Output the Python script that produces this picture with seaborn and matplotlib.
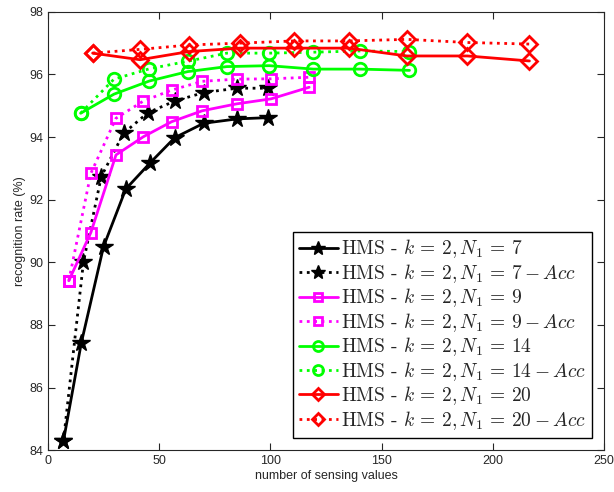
import matplotlib
matplotlib.use("Agg")
import matplotlib.pyplot as plt
import seaborn as sns
import numpy as np

sns.set_style("ticks")
plt.rcParams['font.family'] = ['Liberation Sans', 'DejaVu Sans']
plt.rcParams['mathtext.fontset'] = 'cm'
plt.rcParams['xtick.direction'] = 'in'
plt.rcParams['ytick.direction'] = 'in'

# N1 = 7
x7 = [7, 15, 25, 35, 46, 57, 70, 85, 99]
y7 = [84.3, 87.42, 90.5, 92.34, 93.18, 93.98, 94.44, 94.58, 94.62]
x7a = [7, 16, 24, 34, 45, 57, 70, 85, 99]
y7a = [84.3, 90.02, 92.74, 94.12, 94.78, 95.15, 95.42, 95.56, 95.56]
# N1 = 9
x9 = [9.4, 19.3, 30.6, 42.9, 55.6, 69.4, 84.8, 100.3, 117.4]
y9 = [89.41, 90.95, 93.43, 94.01, 94.49, 94.84, 95.06, 95.22, 95.59]
y9a = [89.41, 92.84, 94.6, 95.15, 95.5, 95.78, 95.85, 95.86, 95.91]
# N1 = 14
x14 = [14.7, 29.7, 45.6, 62.8, 80.4, 99.5, 119.3, 140.3, 162.5]
y14 = [94.76, 95.37, 95.79, 96.09, 96.25, 96.28, 96.17, 96.17, 96.13]
y14a = [94.76, 95.85, 96.18, 96.42, 96.68, 96.68, 96.71, 96.75, 96.73]
# N1 = 20
x20 = [20.1, 41.4, 63.4, 86.3, 110.6, 135.3, 161.3, 188.5, 216.4]
y20 = [96.68, 96.47, 96.73, 96.84, 96.84, 96.84, 96.59, 96.59, 96.43]
y20a = [96.68, 96.8, 96.94, 97.0, 97.07, 97.07, 97.12, 97.02, 96.97]

def lab(n, acc=False):
    s = r'$\text{HMS - }k\,=\,2, N_1\,=\,%s' % n
    if acc:
        s += r'-Acc'
    return s + '$'

series = [
    (x7, y7, 'k', '*', '-', lab(7)),
    (x7a, y7a, 'k', '*', ':', lab(7, True)),
    (x9, y9, '#ff00ff', 's', '-', lab(9)),
    (x9, y9a, '#ff00ff', 's', ':', lab(9, True)),
    (x14, y14, '#00ff00', 'o', '-', lab(14)),
    (x14, y14a, '#00ff00', 'o', ':', lab(14, True)),
    (x20, y20, '#ff0000', 'D', '-', lab(20)),
    (x20, y20a, '#ff0000', 'D', ':', lab(20, True)),
]
msizes = {'*': 13, 's': 7, 'o': 9, 'D': 8}

fig = plt.figure(figsize=(6.14, 4.92), dpi=100)
ax = fig.add_axes([0.078, 0.085, 0.906, 0.891])
for xs, ys, c, m, ls, label in series:
    filled = m == '*'
    sns.lineplot(x=xs, y=ys, ax=ax, color=c, marker=m, linestyle=ls,
                 linewidth=2, markersize=msizes[m], sort=False,
                 markerfacecolor=c if filled else 'none',
                 markeredgecolor=c, markeredgewidth=2 if not filled else 1,
                 label=label, estimator=None)

ax.set_xlim(0, 250)
ax.set_ylim(84, 98)
ax.set_xticks(np.arange(0, 251, 50))
ax.set_yticks(np.arange(84, 99, 2))
ax.tick_params(labelsize=9, top=True, right=True, length=5, width=0.8)
for s in ax.spines.values():
    s.set_linewidth(0.8)
ax.set_xlabel("number of sensing values", fontsize=9, labelpad=2)
ax.set_ylabel("recognition rate (%)", fontsize=9, labelpad=2)
leg = ax.legend(loc='lower right', fontsize=14, fancybox=False,
                edgecolor='k', framealpha=1, handlelength=2.0,
                borderpad=0.3, labelspacing=0.08, handletextpad=0.15,
                borderaxespad=0.65, markerscale=0.8)
leg.get_frame().set_linewidth(1)
fig.savefig("out.png", dpi=100)
